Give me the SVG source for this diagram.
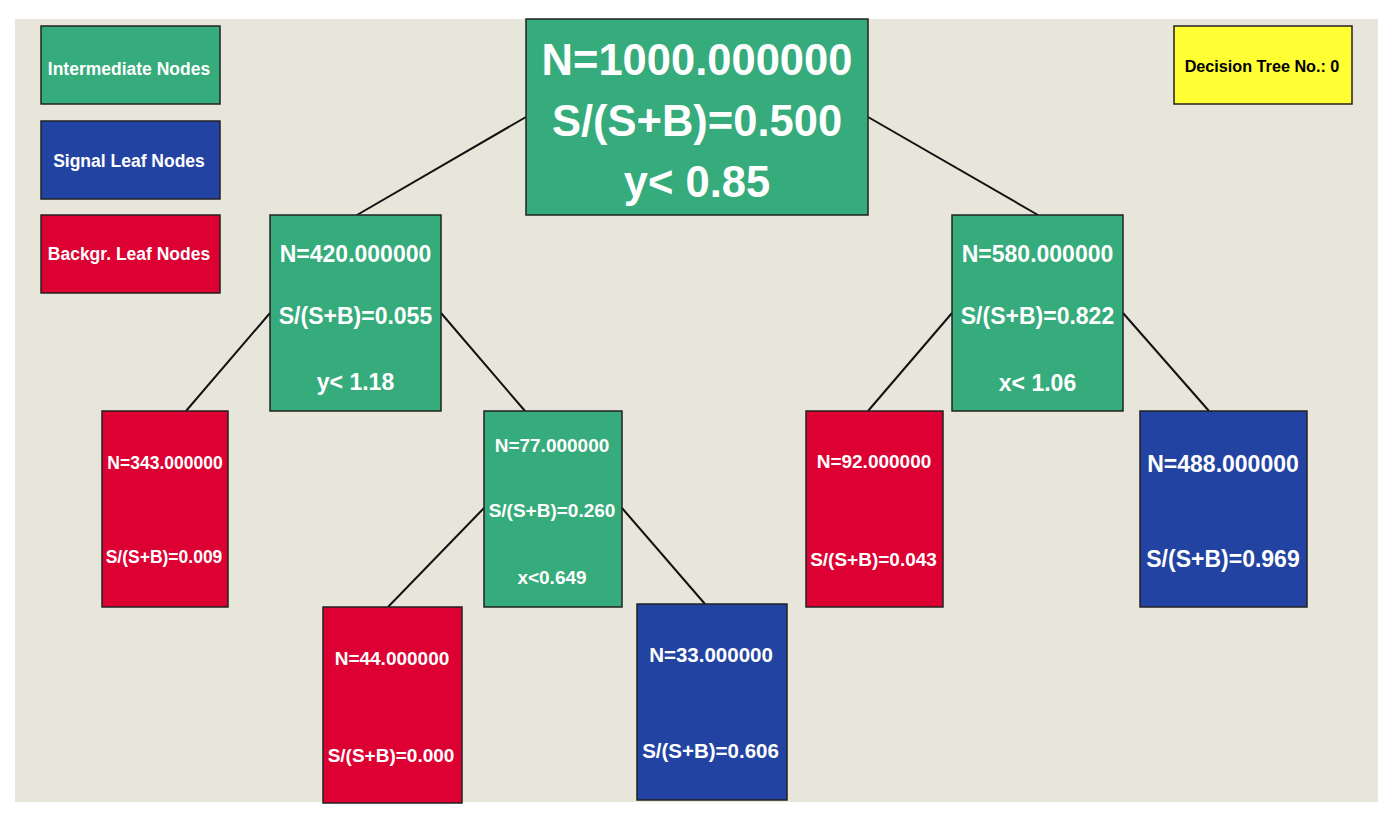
<svg xmlns="http://www.w3.org/2000/svg" width="1386" height="819" viewBox="0 0 1386 819">
<style>
.bx{stroke:#222;stroke-width:1.5}
.g{fill:#36AB7B}
.b{fill:#2243A2}
.r{fill:#DD0032}
.y{fill:#FFFF33}
text{font-family:"Liberation Sans",Arial,sans-serif;font-weight:bold;fill:#fff;text-anchor:middle}
.dk{fill:#000}
.c line{stroke:#111;stroke-width:2}
</style>
<rect x="0" y="0" width="1386" height="819" fill="#fff"/>
<rect x="15" y="19" width="1363" height="783" fill="#E8E6DA"/>
<g class="c" id="connectors">
<line x1="526" y1="117" x2="357" y2="215"/>
<line x1="868" y1="117" x2="1038" y2="215"/>
<line x1="270" y1="313" x2="186" y2="411"/>
<line x1="441" y1="313" x2="525" y2="411"/>
<line x1="484" y1="508" x2="388" y2="607"/>
<line x1="622" y1="508" x2="705" y2="604"/>
<line x1="952" y1="313" x2="868" y2="411"/>
<line x1="1123" y1="313" x2="1209" y2="411"/>
</g>
<g id="legend-intermediate"><rect class="bx g" x="41" y="26" width="179" height="78"/><text x="129" y="75" font-size="17.5">Intermediate Nodes</text></g>
<g id="legend-signal"><rect class="bx b" x="41" y="121" width="179" height="78"/><text x="129" y="167" font-size="17.5">Signal Leaf Nodes</text></g>
<g id="legend-background"><rect class="bx r" x="41" y="215" width="179" height="78"/><text x="129" y="260" font-size="17.5">Backgr. Leaf Nodes</text></g>
<g id="tree-no"><rect class="bx y" x="1174" y="26" width="178" height="78"/><text class="dk" x="1262" y="72" font-size="16.2">Decision Tree No.: 0</text></g>
<g id="n1000"><rect class="bx g" x="526" y="19" width="342" height="196"/>
<text x="697" y="75" font-size="43.5">N=1000.000000</text>
<text x="697" y="136" font-size="43.5">S/(S+B)=0.500</text>
<text x="697" y="197" font-size="43.5">y&lt; 0.85</text></g>
<g id="n420"><rect class="bx g" x="270" y="215" width="171" height="196"/>
<text x="355.5" y="262" font-size="23">N=420.000000</text>
<text x="355.5" y="324" font-size="23">S/(S+B)=0.055</text>
<text x="355.5" y="390" font-size="23">y&lt; 1.18</text></g>
<g id="n580"><rect class="bx g" x="952" y="215" width="171" height="196"/>
<text x="1037.5" y="262" font-size="23">N=580.000000</text>
<text x="1037.5" y="324" font-size="23">S/(S+B)=0.822</text>
<text x="1037.5" y="391" font-size="23">x&lt; 1.06</text></g>
<g id="n343"><rect class="bx r" x="102" y="411" width="126" height="196"/>
<text x="165" y="469" font-size="17.5">N=343.000000</text>
<text x="164" y="563" font-size="17.5">S/(S+B)=0.009</text></g>
<g id="n77"><rect class="bx g" x="484" y="411" width="138" height="196"/>
<text x="552" y="452" font-size="19">N=77.000000</text>
<text x="552" y="517" font-size="19">S/(S+B)=0.260</text>
<text x="552" y="584" font-size="19">x&lt;0.649</text></g>
<g id="n92"><rect class="bx r" x="806" y="411" width="137" height="196"/>
<text x="874" y="468" font-size="19">N=92.000000</text>
<text x="873.5" y="566" font-size="19">S/(S+B)=0.043</text></g>
<g id="n488"><rect class="bx b" x="1140" y="411" width="167" height="196"/>
<text x="1223" y="472" font-size="23">N=488.000000</text>
<text x="1223" y="567" font-size="23">S/(S+B)=0.969</text></g>
<g id="n44"><rect class="bx r" x="323" y="607" width="139" height="196"/>
<text x="392" y="665" font-size="19">N=44.000000</text>
<text x="391" y="762" font-size="19">S/(S+B)=0.000</text></g>
<g id="n33"><rect class="bx b" x="637" y="604" width="150" height="196"/>
<text x="711" y="662" font-size="20.5">N=33.000000</text>
<text x="710.5" y="758" font-size="20.5">S/(S+B)=0.606</text></g>
</svg>
